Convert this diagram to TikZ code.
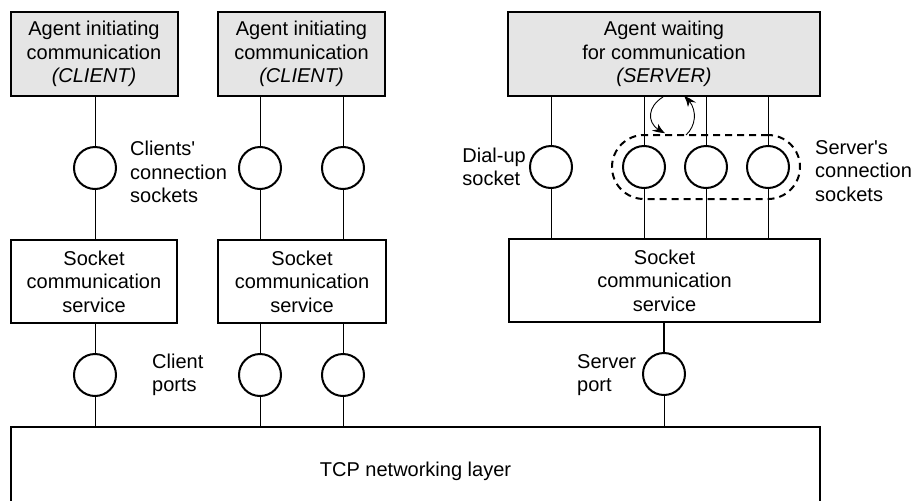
\documentclass[tikz,border=0pt]{standalone}
\usepackage{fontspec}
\setmainfont{Liberation Sans}[Ligatures=TeXOff]
\usetikzlibrary{arrows.meta,bending}
\begin{document}
\begin{tikzpicture}[x=1pt,y=-1pt,
  font=\fontsize{20}{23.5}\selectfont,
  agent/.style={draw, line width=2pt, fill=black!10, minimum width=#1, minimum height=84pt, align=center, inner sep=0pt},
  service/.style={draw, line width=2pt, minimum width=#1, minimum height=83pt, align=center, inner sep=0pt},
  sock/.style={circle, draw, line width=2pt, minimum size=42pt, inner sep=0pt},
  lbl/.style={inner sep=0pt},
  conn/.style={line width=0.9pt},
  arr/.style={line width=0.9pt, -{Stealth[length=12pt,width=9pt,bend]}}
]
\fill[white] (0,0) rectangle (914,501);
\useasboundingbox (0,0) rectangle (914,501);

% agents
\node[agent=167pt] (c1) at (94,54) {Agent initiating\\communication\\\textit{(CLIENT)}};
\node[agent=167pt] (c2) at (301.5,54) {Agent initiating\\communication\\\textit{(CLIENT)}};
\node[agent=312pt] (s) at (664,54) {Agent waiting\\for communication\\\textit{(SERVER)}};

% socket services
\node[service=166pt] (sc1) at (94,281.5) {Socket\\communication\\service};
\node[service=168pt] (sc2) at (302,281.5) {Socket\\communication\\service};
\node[service=311pt] (ss) at (664.5,280.5) {Socket\\communication\\service};

% TCP layer
\node[draw, line width=2pt, minimum width=809pt, minimum height=88pt, inner sep=0pt] (tcp) at (415.5,471) {TCP networking layer};

% dashed group
\node[draw, line width=2pt, dash pattern=on 7pt off 5pt, rounded corners=32pt, minimum width=188pt, minimum height=64pt, inner sep=0pt] (grp) at (706,167) {};

% sockets
\node[sock] (cs1) at (95,168) {};
\node[sock] (cs2) at (260,168) {};
\node[sock] (cs3) at (343,168) {};
\node[sock] (du) at (551,167) {};
\node[sock] (ss1) at (644,167) {};
\node[sock] (ss2) at (706,167) {};
\node[sock] (ss3) at (768,167) {};

% ports
\node[sock] (cp1) at (95,375) {};
\node[sock] (cp2) at (260,375) {};
\node[sock] (cp3) at (343,375) {};
\node[sock] (sp) at (664,374) {};

% connectors agent -> sockets -> services
\draw[conn] (c1.south -| cs1) -- (cs1) -- (cs1 |- sc1.north);
\draw[conn] (c2.south -| cs2) -- (cs2) -- (cs2 |- sc2.north);
\draw[conn] (c2.south -| cs3) -- (cs3) -- (cs3 |- sc2.north);
\draw[conn] (s.south -| du) -- (du) -- (du |- ss.north);
\draw[conn] (s.south -| ss1) -- (ss1) -- (ss1 |- ss.north);
\draw[conn] (s.south -| ss2) -- (ss2) -- (ss2 |- ss.north);
\draw[conn] (s.south -| ss3) -- (ss3) -- (ss3 |- ss.north);

% services -> ports -> tcp
\draw[conn] (sc1.south -| cp1) -- (cp1) -- (cp1 |- tcp.north);
\draw[conn] (sc2.south -| cp2) -- (cp2) -- (cp2 |- tcp.north);
\draw[conn] (sc2.south -| cp3) -- (cp3) -- (cp3 |- tcp.north);
\draw[line width=2pt] (ss.south -| sp) -- (sp);
\draw[conn] (sp) -- (sp |- tcp.north);

% curved arrows
\coordinate (a1s) at (663,97);
\coordinate (a1e) at (665,133);
\coordinate (a2s) at (686,135);
\coordinate (a2e) at (684,96);
\draw[arr] (a1s) .. controls (645,108) and (647,127) .. (a1e);
\draw[arr] (a2s) .. controls (698,124) and (697,105) .. (a2e);

% labels
\node[lbl, anchor=west, align=left] (lcs) at (130,172) {Clients'\\connection\\sockets};
\node[lbl, anchor=west, align=left] (lcp) at (152,375) {Client\\ports};
\node[lbl, anchor=east, align=left] (ldu) at (526,167) {Dial-up\\socket};
\node[lbl, anchor=west, align=left] (lsp) at (577,375) {Server\\port};
\node[lbl, anchor=west, align=left] (lsc) at (815,171) {Server's\\connection\\sockets};
\end{tikzpicture}
\end{document}
